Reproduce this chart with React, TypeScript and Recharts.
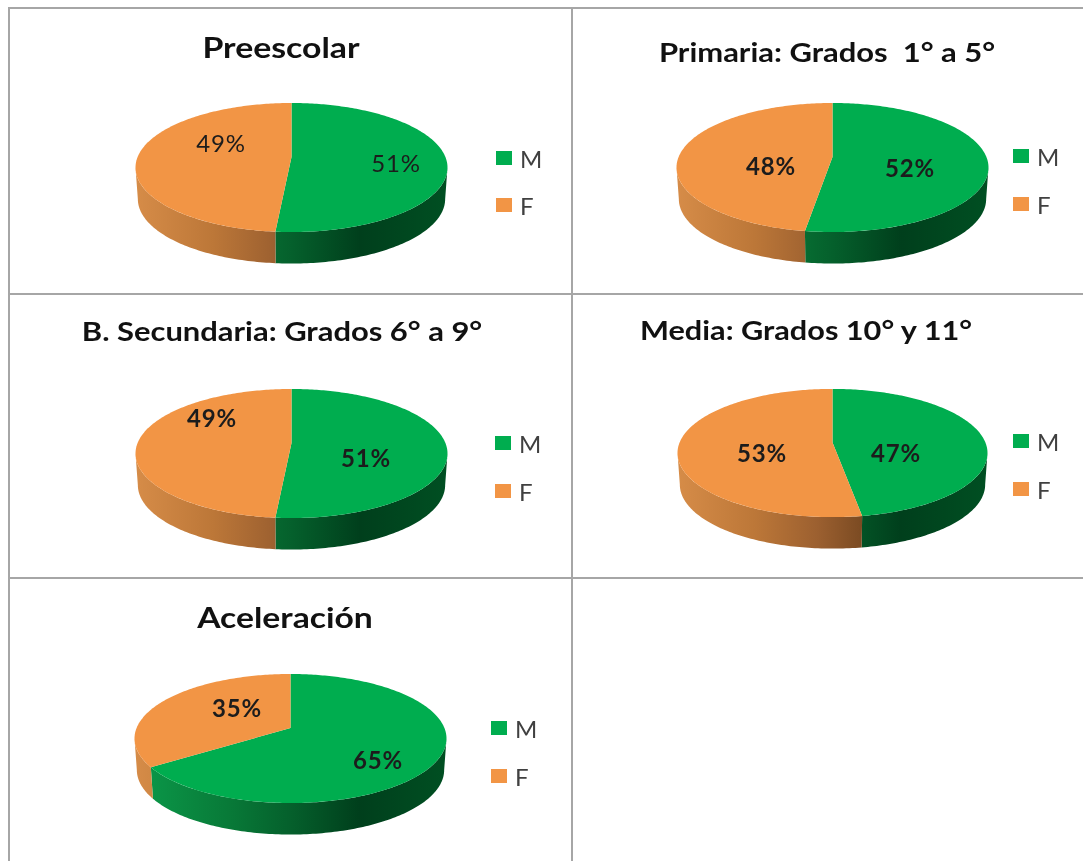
import React from 'react';
import { PieChart, Pie, Cell, Legend } from 'recharts';

const CATEGORIES = ['M', 'F'];
const TITLES = ['Preescolar', 'Primaria: Grados  1° a 5°', 'B. Secundaria: Grados 6° a 9°', 'Media: Grados 10° y 11°', 'Aceleración'];
const M_SHARE = [51.4, 52.4, 51.4, 47.4, 65.4];
const F_SHARE = [48.6, 47.6, 48.6, 52.6, 34.6];

const COLORS = ['#00AD4F', '#F29545'];
const WALL_STOPS = [
  [[0, '#0b9a4a'], [0.3, '#087a38'], [0.5, '#05602c'], [0.72, '#003f1c'], [1, '#004f22']],
  [[0, '#d68c48'], [0.25, '#bc7738'], [0.45, '#9c6030'], [0.6, '#7a4a22'], [1, '#6a3f1c']],
];

// Layout, in page pixels
const LAYOUT = [
  { x: 11, y: 10, w: 560, h: 283, cx: 291.5, cy: 167.5, r: 156, tx: 281, ty: 47, ts: 29, sx: 1.165, lg: [496, 158, 205], weight: 400, lbl: [[396, 162], [221, 142]] },
  { x: 574, y: 10, w: 509, h: 283, cx: 832.5, cy: 167.5, r: 156, tx: 827, ty: 52, ts: 26, sx: 1.19, lg: [1013, 156, 204], weight: 700, lbl: [[910, 167], [771, 165]] },
  { x: 11, y: 296, w: 560, h: 281, cx: 291.5, cy: 453.5, r: 156, tx: 282, ty: 331, ts: 26, sx: 1.19, lg: [495, 443, 491], weight: 700, lbl: [[366, 457], [212, 417]] },
  { x: 574, y: 296, w: 509, h: 281, cx: 832.5, cy: 453, r: 155, tx: 806, ty: 330, ts: 26, sx: 1.18, lg: [1013, 441, 489], weight: 700, lbl: [[896, 452], [762, 452]] },
  { x: 11, y: 580, w: 560, h: 281, cx: 290.5, cy: 738.5, r: 156, tx: 284.5, ty: 617, ts: 29, sx: 1.16, lg: [491, 728, 776], weight: 700, lbl: [[378, 759], [237, 707]] },
];
const GRID_H = [8, 294, 578];
const GRID_V = [9, 572];

// Perspective projection of the tilted disc
const P = 0.163;
const KY = 0.4026;
const KC = -0.0673;
const DEPTH = 31.5;
const BOTTOM_SCALE = 0.985;
const proj = (deg: number, r: number) => {
  const a = (deg * Math.PI) / 180;
  const u = Math.cos(a);
  const v = -Math.sin(a);
  const w = 1 - P * v;
  return [(r * Math.sqrt(1 - P * P) * u) / w, (r * KY * v) / w + r * KC];
};

const samples = (from: number, to: number) => {
  const n = Math.max(2, Math.ceil(Math.abs(to - from)));
  return Array.from({ length: n + 1 }, (_, i) => from + ((to - from) * i) / n);
};

const makeShape = (panel: number) => (props: any) => {
  const { cx, cy, outerRadius: r, startAngle, endAngle, index } = props;
  const fill = COLORS[index];
  const hi = Math.max(startAngle, endAngle);
  const lo = Math.min(startAngle, endAngle);
  const top = samples(hi, lo).map((d) => proj(d, r));
  const topPath =
    `M${cx},${cy + r * KC}` + top.map(([x, y]) => `L${(cx + x).toFixed(2)},${(cy + y).toFixed(2)}`).join('') + 'Z';

  const frontHi = -9.4;
  const frontLo = -170.6;
  const wHi = Math.min(hi, frontHi);
  const wLo = Math.max(lo, frontLo);
  let wall = '';
  if (wHi > wLo) {
    const pts = samples(wHi, wLo).map((d) => proj(d, r));
    const upper = pts.map(([x, y]) => `${(cx + x).toFixed(2)},${(cy + y).toFixed(2)}`);
    const lower = pts
      .slice()
      .reverse()
      .map(([x, y]) => `${(cx + x * BOTTOM_SCALE).toFixed(2)},${(cy + y + DEPTH).toFixed(2)}`);
    wall = 'M' + upper.join('L') + 'L' + lower.join('L') + 'Z';
  }
  const id = `wall-${panel}-${index}`;
  return (
    <g>
      <defs>
        <linearGradient id={id} gradientUnits="userSpaceOnUse" x1={cx - r} x2={cx + r} y1={0} y2={0}>
          {WALL_STOPS[index].map(([o, c]) => (
            <stop key={String(o)} offset={o as number} stopColor={c as string} />
          ))}
        </linearGradient>
      </defs>
      {wall && <path d={wall} fill={`url(#${id})`} stroke="none" />}
      <path d={topPath} fill={fill} stroke="none" />
    </g>
  );
};

const FONT = 'Lato, "Open Sans", sans-serif';

const Panel = ({ i }: { i: number }) => {
  const L = LAYOUT[i];
  const data = CATEGORIES.map((name, k) => ({ name, value: k === 0 ? M_SHARE[i] : F_SHARE[i] }));
  return (
    <div style={{ position: 'absolute', left: L.x, top: L.y, width: L.w, height: L.h }}>
      <div
        style={{
          position: 'absolute',
          left: L.tx - L.x - 300,
          width: 600,
          top: L.ty - L.y - 18,
          height: 36,
          lineHeight: '36px',
          textAlign: 'center',
          fontFamily: FONT,
          fontWeight: 700,
          fontSize: L.ts,
          color: '#111',
          whiteSpace: 'pre',
          transform: `scaleX(${L.sx})`,
        }}
      >
        {TITLES[i]}
      </div>
      <PieChart width={L.w} height={L.h} margin={{ top: 0, right: 0, bottom: 0, left: 0 }} style={{ position: 'absolute', left: 0, top: 0 }}>
        <Pie
          data={data}
          dataKey="value"
          nameKey="name"
          cx={L.cx - L.x}
          cy={L.cy - L.y}
          outerRadius={L.r}
          innerRadius={0}
          startAngle={90}
          endAngle={-270}
          stroke="none"
          isAnimationActive={false}
          shape={makeShape(i)}
          labelLine={false}
          label={(p: any) => (
            <text
              x={L.lbl[p.index][0] - L.x}
              y={L.lbl[p.index][1] - L.y}
              textAnchor="middle"
              dominantBaseline="central"
              fontFamily={FONT}
              fontSize={24}
              fontWeight={L.weight}
              letterSpacing={0.8}
              fill="#1c1c1c"
            >
              {`${Math.round(p.value)}%`}
            </text>
          )}
        >
          {data.map((d, k) => (
            <Cell key={d.name} fill={COLORS[k]} />
          ))}
        </Pie>
        <Legend
          itemSorter={null as any}
          wrapperStyle={{ position: 'absolute', left: 0, top: 0, width: L.w, height: L.h, pointerEvents: 'none' }}
          content={(lp: any) => (
            <div>
              {CATEGORIES.map((name, k) => {
                const e = (lp.payload || []).find((item: any) => item.value === name);
                if (!e) return null;
                return (
                  <div
                    key={e.value}
                    style={{
                      position: 'absolute',
                      left: L.lg[0] - L.x,
                      top: L.lg[k + 1] - L.y - 15,
                      height: 30,
                      display: 'flex',
                      alignItems: 'center',
                    }}
                  >
                    <span style={{ display: 'inline-block', width: 16, height: 14, background: COLORS[k], marginRight: 8 }} />
                    <span style={{ fontFamily: FONT, fontSize: 24, color: '#404040' }}>{e.value}</span>
                  </div>
                );
              })}
            </div>
          )}
        />
      </PieChart>
    </div>
  );
};

export default function App() {
  return (
    <div style={{ position: 'absolute', left: 0, top: 0, width: 1083, height: 861, background: '#fff', overflow: 'hidden', filter: 'blur(0.5px)' }}>
      {GRID_H.map((y) => (
        <div key={y} style={{ position: 'absolute', left: 9, right: 0, top: y - 1, height: 2, background: '#a6a6a6' }} />
      ))}
      {GRID_V.map((x) => (
        <div key={x} style={{ position: 'absolute', left: x - 1, top: 7, bottom: 0, width: 2, background: '#a6a6a6' }} />
      ))}
      {LAYOUT.map((_, i) => (
        <Panel key={i} i={i} />
      ))}
    </div>
  );
}
